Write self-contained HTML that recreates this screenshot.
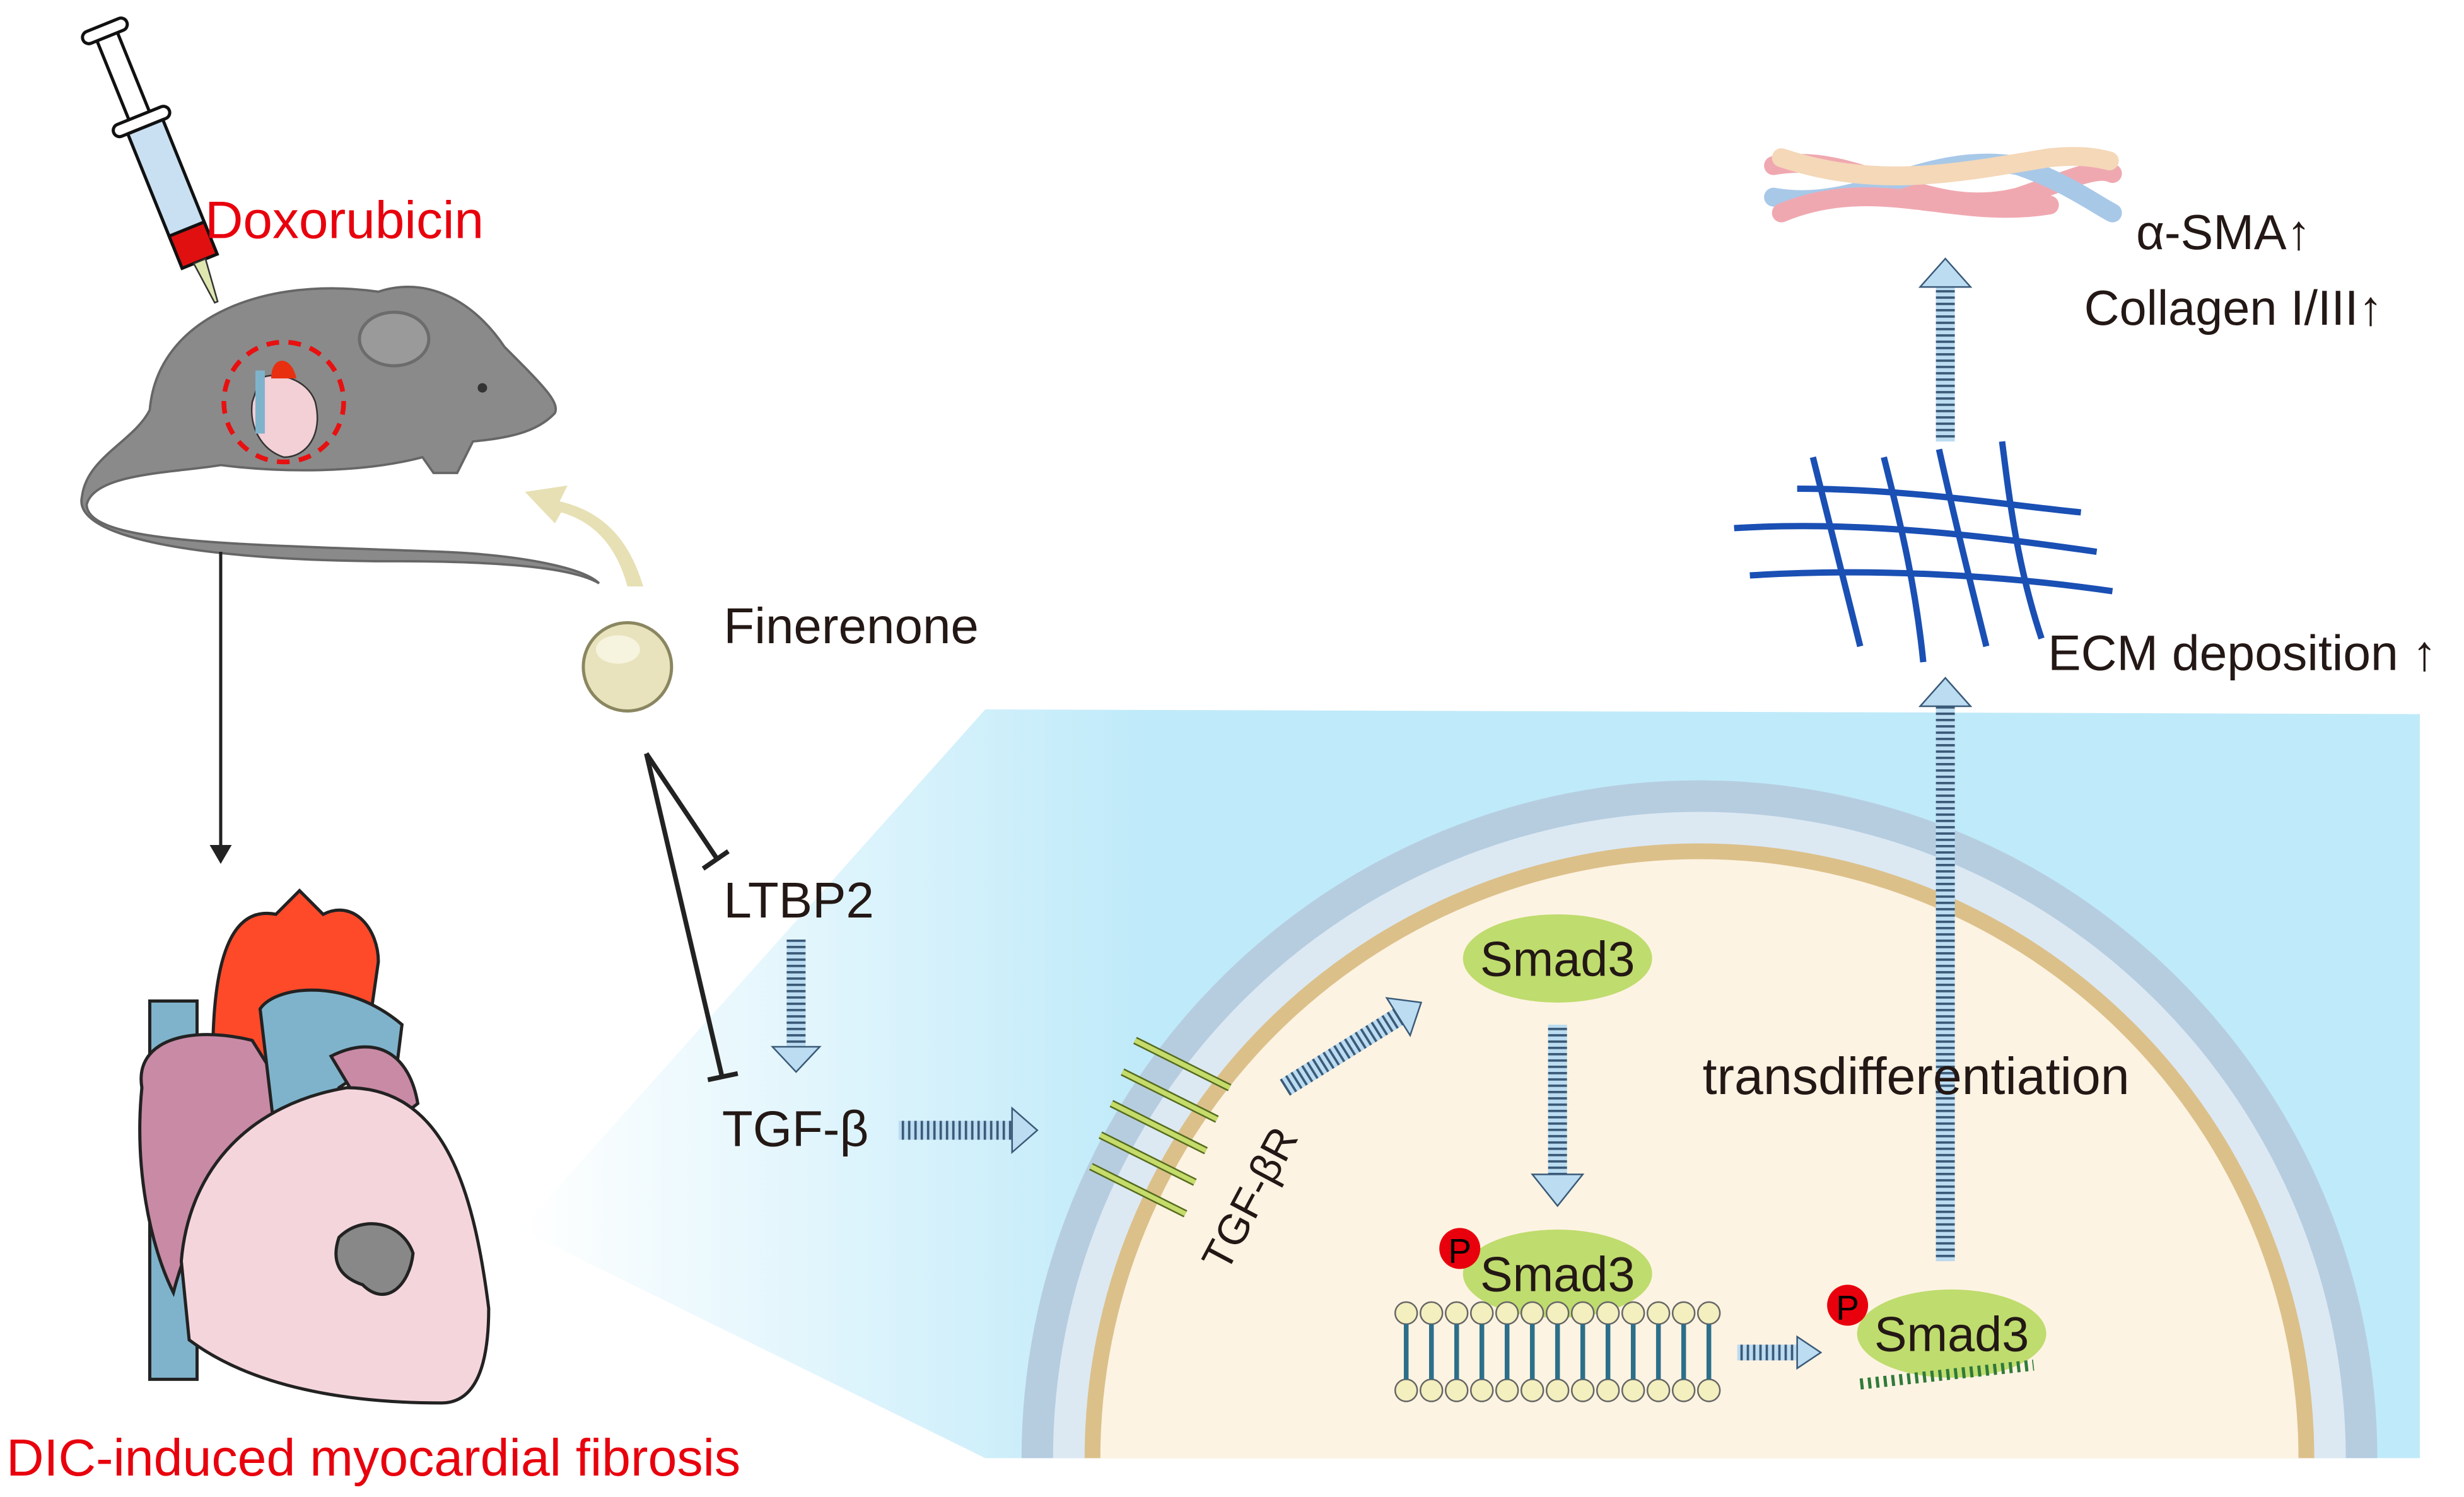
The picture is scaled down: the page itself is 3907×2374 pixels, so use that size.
<!DOCTYPE html>
<html><head><meta charset="utf-8"><style>
html,body{margin:0;padding:0;background:#fff}
svg{display:block}
text{font-family:"Liberation Sans",Arial,sans-serif}
</style></head><body>
<svg width="3907" height="2374" viewBox="0 0 1563 949.6" xmlns="http://www.w3.org/2000/svg">
<defs>
<linearGradient id="bg" x1="0" x2="1" y1="0" y2="0">
<stop offset="0" stop-color="#fff"/><stop offset="0.33" stop-color="#bfeaf9"/><stop offset="1" stop-color="#bfeaf9"/>
</linearGradient>
<pattern id="st" width="4" height="4" patternUnits="userSpaceOnUse">
<rect width="4" height="4" fill="#bcdcf2"/><rect width="1.5" height="4" fill="#3a5a78"/>
</pattern>
<pattern id="stv" width="4" height="4" patternUnits="userSpaceOnUse">
<rect width="4" height="4" fill="#bcdcf2"/><rect width="4" height="1.5" fill="#3a5a78"/>
</pattern>
</defs>
<polygon points="330,780 625,450 1535,453 1535,925 625,925" fill="url(#bg)"/>
<path d="M648,925 A430,430 0 0 1 1508,925 Z" fill="#b6cde0"/>
<path d="M668,925 A410,410 0 0 1 1488,925 Z" fill="#dce9f3"/>
<path d="M688,925 A390,390 0 0 1 1468,925 Z" fill="#dcc08a"/>
<path d="M698,925 A380,380 0 0 1 1458,925 Z" fill="#fdf3e2"/>
<g transform="rotate(-22 95 90)">
<rect x="88" y="15" width="14" height="60" fill="#fff" stroke="#111" stroke-width="2"/>
<rect x="80" y="10" width="30" height="8" rx="4" fill="#fff" stroke="#111" stroke-width="2"/>
<rect x="76" y="72" width="38" height="8" rx="4" fill="#fff" stroke="#111" stroke-width="2"/>
<rect x="84" y="80" width="24" height="75" fill="#c8e0f2" stroke="#111" stroke-width="2"/>
<rect x="84" y="150" width="24" height="22" fill="#e01010" stroke="#111" stroke-width="2"/>
<polygon points="92,172 100,172 97,200 95,200" fill="#dfe6b0" stroke="#333"/>
</g>
<path d="M95,260 C100,200 170,175 240,185 C270,175 300,190 320,220 C345,245 355,255 352,262 C340,275 320,278 300,280 L290,300 L275,300 L268,290 C230,300 180,300 140,295 C110,300 60,300 55,320 C55,345 150,345 280,350 C330,352 370,360 380,370 C360,358 300,356 250,356 C150,356 45,345 52,315 C55,290 85,280 95,260 Z" fill="#8a8a8a" stroke="#666" stroke-width="1.5"/>
<ellipse cx="250" cy="215" rx="22" ry="17" fill="#9a9a9a" stroke="#6c6c6c" stroke-width="2"/>
<circle cx="306" cy="246" r="3" fill="#333"/>
<circle cx="180" cy="255" r="38" fill="none" stroke="#e81010" stroke-width="3" stroke-dasharray="8 6"/>
<path d="M165,240 C175,235 195,240 200,255 C205,275 195,290 180,290 C165,285 158,270 160,255 Z" fill="#f3cfd6" stroke="#333"/>
<rect x="162" y="235" width="6" height="40" fill="#7fb3cc"/>
<path d="M172,240 C172,225 185,225 188,240" fill="#e83010"/>
<path d="M408,372 C400,345 385,325 355,318 L360,308 L333,312 L352,332 L356,325 C380,332 392,350 398,372 Z" fill="#e6e0b4"/>
<circle cx="398" cy="423" r="28" fill="#e8e3bd" stroke="#8a8660" stroke-width="2"/>
<ellipse cx="392" cy="412" rx="14" ry="9" fill="#f6f3de"/>
<line x1="140" y1="350" x2="140" y2="538" stroke="#222" stroke-width="2"/>
<polygon points="133,536 147,536 140,548" fill="#222"/>
<line x1="410" y1="478" x2="455" y2="545" stroke="#222" stroke-width="3"/>
<line x1="446" y1="551" x2="462" y2="540" stroke="#222" stroke-width="3"/>
<line x1="410" y1="478" x2="458" y2="683" stroke="#222" stroke-width="3"/>
<line x1="449" y1="685" x2="468" y2="681" stroke="#222" stroke-width="3"/>
<g stroke="#222" stroke-width="2">
<rect x="95" y="635" width="30" height="240" fill="#7fb3cc"/>
<path d="M135,670 C135,600 150,575 175,580 L190,565 L205,580 C225,570 240,590 240,610 L230,680 Z" fill="#ff4a2a"/>
<path d="M90,690 C85,660 120,650 160,660 L185,700 C150,720 120,780 110,820 C95,790 85,740 90,690 Z" fill="#c98aa5"/>
<path d="M165,640 C175,625 220,620 255,650 L250,690 L230,680 L215,690 L200,720 L175,725 Z" fill="#7fb3cc"/>
<path d="M210,670 C240,655 260,670 265,700 L240,720 Z" fill="#c98aa5"/>
<path d="M115,800 C120,740 160,700 220,690 C280,690 300,750 310,830 C310,870 300,890 280,890 C220,890 160,880 120,850 Z" fill="#f5d5dc"/>
<path d="M215,785 C230,770 255,775 262,795 C260,815 245,830 230,815 C215,810 210,800 215,785 Z" fill="#888"/>
</g>
<rect x="499" y="596" width="12" height="70" fill="url(#stv)"/>
<polygon points="490,664 520,664 505,680" fill="#bcdcf2" stroke="#3a5a78"/>
<rect x="570" y="711" width="72" height="12" fill="url(#st)"/>
<polygon points="642,703 642,731 658,717" fill="#bcdcf2" stroke="#3a5a78"/>
<g transform="translate(815,690) rotate(-32)"><rect x="0" y="-6" width="85" height="12" fill="url(#st)"/><polygon points="85,-14 85,14 102,0" fill="#bcdcf2" stroke="#3a5a78"/></g>
<rect x="982" y="650" width="12" height="95" fill="url(#stv)"/>
<polygon points="972,745 1004,745 988,765" fill="#bcdcf2" stroke="#3a5a78"/>
<rect x="1102" y="853" width="40" height="10" fill="url(#st)"/>
<polygon points="1140,848 1140,868 1155,858" fill="#bcdcf2" stroke="#3a5a78"/>
<rect x="1228" y="448" width="12" height="352" fill="url(#stv)"/>
<polygon points="1218,448 1250,448 1234,430" fill="#bcdcf2" stroke="#3a5a78"/>
<rect x="1228" y="182" width="12" height="98" fill="url(#stv)"/>
<polygon points="1218,182 1250,182 1234,164" fill="#bcdcf2" stroke="#3a5a78"/>
<text x="130" y="151" font-size="33.5" fill="#e8000d">Doxorubicin</text>
<text x="459" y="408" font-size="32" fill="#231815">Finerenone</text>
<text x="459" y="582" font-size="32" fill="#231815">LTBP2</text>
<text x="458" y="727" font-size="32" fill="#231815">TGF-β</text>
<text x="4" y="936" font-size="33" fill="#e8000d">DIC-induced myocardial fibrosis</text>
<text transform="translate(778,808) rotate(-62)" font-size="27" fill="#231815">TGF-βR</text>
<text x="1080" y="694" font-size="33" fill="#231815">transdifferentiation</text>
<text x="1299" y="425" font-size="31.5" fill="#231815">ECM deposition ↑</text>
<text x="1355" y="158" font-size="31" fill="#231815">α-SMA↑</text>
<text x="1322" y="206" font-size="31" fill="#231815">Collagen I/III↑</text>
<g fill="none" stroke="#556b1f" stroke-width="5">
<path d="M720,660 L780,690 M712,680 L772,710 M705,700 L765,730 M698,720 L758,750 M692,740 L752,770"/>
</g>
<g fill="none" stroke="#c5dc6a" stroke-width="3">
<path d="M720,660 L780,690 M712,680 L772,710 M705,700 L765,730 M698,720 L758,750 M692,740 L752,770"/>
</g>
<ellipse cx="988" cy="608" rx="60" ry="28" fill="#bfdc6e"/>
<text x="988" y="619" font-size="31" text-anchor="middle" fill="#231815">Smad3</text>
<ellipse cx="988" cy="808" rx="60" ry="28" fill="#bfdc6e"/>
<text x="988" y="819" font-size="31" text-anchor="middle" fill="#231815">Smad3</text>
<circle cx="926" cy="792" r="13" fill="#e8000d"/><text x="926" y="801" font-size="22" text-anchor="middle">P</text>
<ellipse cx="1238" cy="846" rx="60" ry="28" fill="#bfdc6e"/>
<text x="1238" y="857" font-size="31" text-anchor="middle" fill="#231815">Smad3</text>
<circle cx="1172" cy="828" r="13" fill="#e8000d"/><text x="1172" y="837" font-size="22" text-anchor="middle">P</text>
<path d="M1180,878 L1290,866" stroke="#2f7a3a" stroke-width="7" stroke-dasharray="2 3"/>
<g fill="#f3efbe" stroke="#666" stroke-width="1">
<circle cx="892" cy="833" r="7"/><circle cx="908" cy="833" r="7"/><circle cx="924" cy="833" r="7"/><circle cx="940" cy="833" r="7"/><circle cx="956" cy="833" r="7"/><circle cx="972" cy="833" r="7"/><circle cx="988" cy="833" r="7"/><circle cx="1004" cy="833" r="7"/><circle cx="1020" cy="833" r="7"/><circle cx="1036" cy="833" r="7"/><circle cx="1052" cy="833" r="7"/><circle cx="1068" cy="833" r="7"/><circle cx="1084" cy="833" r="7"/>
<circle cx="892" cy="882" r="7"/><circle cx="908" cy="882" r="7"/><circle cx="924" cy="882" r="7"/><circle cx="940" cy="882" r="7"/><circle cx="956" cy="882" r="7"/><circle cx="972" cy="882" r="7"/><circle cx="988" cy="882" r="7"/><circle cx="1004" cy="882" r="7"/><circle cx="1020" cy="882" r="7"/><circle cx="1036" cy="882" r="7"/><circle cx="1052" cy="882" r="7"/><circle cx="1068" cy="882" r="7"/><circle cx="1084" cy="882" r="7"/>
</g>
<path d="M892,840V875M908,840V875M924,840V875M940,840V875M956,840V875M972,840V875M988,840V875M1004,840V875M1020,840V875M1036,840V875M1052,840V875M1068,840V875M1084,840V875" stroke="#2c6f8a" stroke-width="3"/>
<g stroke="#1a4fb4" stroke-width="4" fill="none">
<path d="M1100,335 C1180,330 1260,340 1330,350"/>
<path d="M1110,365 C1190,360 1270,365 1340,375"/>
<path d="M1140,310 C1210,310 1270,320 1320,325"/>
<path d="M1150,290 C1160,330 1170,370 1180,410"/>
<path d="M1195,290 C1205,330 1215,370 1220,420"/>
<path d="M1230,285 C1240,330 1250,370 1260,410"/>
<path d="M1270,280 C1275,320 1280,360 1295,405"/>
</g>
<g stroke-width="12" fill="none" stroke-linecap="round">
<path d="M1125,105 C1180,95 1220,140 1280,125 C1310,115 1330,105 1340,110" stroke="#f0a8b0"/>
<path d="M1125,125 C1180,135 1220,95 1280,105 C1310,115 1330,130 1340,135" stroke="#a8c8e8"/>
<path d="M1130,100 C1190,120 1240,110 1300,100 C1320,98 1330,100 1338,102" stroke="#f4d8b8"/>
<path d="M1130,135 C1190,110 1240,140 1300,130" stroke="#f0a8b0"/>
</g>
</svg>
</body></html>
